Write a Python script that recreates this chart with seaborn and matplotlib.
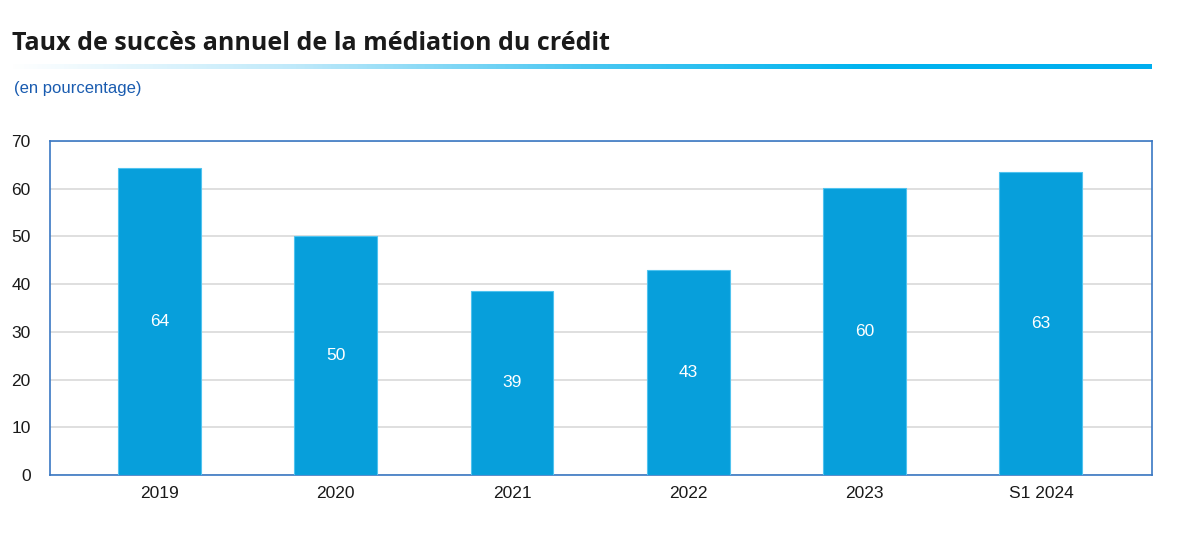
import matplotlib
matplotlib.use("Agg")
import matplotlib.pyplot as plt
import seaborn as sns
import numpy as np
import pandas as pd
from matplotlib.colors import LinearSegmentedColormap

categories = ["2019", "2020", "2021", "2022", "2023", "S1 2024"]
values = [64.4, 50.1, 38.6, 43.0, 60.2, 63.4]
labels = ["64", "50", "39", "43", "60", "63"]
yticks = [0, 10, 20, 30, 40, 50, 60, 70]

sns.set_theme(style="white")
plt.rcParams['font.family'] = ['Liberation Sans', 'DejaVu Sans']

df = pd.DataFrame({"cat": categories, "val": values})

fig = plt.figure(figsize=(12, 5.48), dpi=100)
W, H = 1200, 548
ax = fig.add_axes([50 / W, 1 - 475 / H, (1152 - 50) / W, (475 - 141) / H])

sns.barplot(data=df, x="cat", y="val", color="#079fdb", saturation=1,
            width=0.47, ax=ax, edgecolor="#4fc3ef", linewidth=0.8, zorder=3)

ax.set_xlim(-0.62, 5.63)
ax.set_ylim(0, 70)
ax.set_yticks(yticks)
ax.set_yticklabels([str(t) for t in yticks])
ax.yaxis.grid(True, color="#d9d9d9", linewidth=1.2, zorder=0)
ax.set_axisbelow(True)
ax.set_xlabel("")
ax.set_ylabel("")
for s in ax.spines.values():
    s.set_color("#3a78c3")
    s.set_linewidth(1.2)
ax.tick_params(axis="both", length=0, labelsize=12.5, colors="#1a1a1a")
ax.tick_params(axis="y", pad=14)
ax.tick_params(axis="x", pad=8)

for i, (v, lab) in enumerate(zip(values, labels)):
    ax.text(i, v / 2, lab, ha="center", va="center", color="white", fontsize=12.5)

# Title
fig.text(12 / W, 1 - 44 / H, "Taux de succès annuel de la médiation du crédit",
         fontsize=18, fontweight="bold", family=["Open Sans", "DejaVu Sans"],
         color="#1a1a1a", ha="left", va="center")

# Gradient line
gax = fig.add_axes([10 / W, 1 - 69 / H, (1152 - 10) / W, 5 / H])
grad = np.linspace(0, 1, 512).reshape(1, -1)
cmap = LinearSegmentedColormap.from_list("g", ["#ffffff", "#bfe9fa", "#4cc8f2", "#00b4ef", "#00aeef"])
gax.imshow(grad, aspect="auto", cmap=cmap, extent=[0, 1, 0, 1])
gax.set_axis_off()

# Subtitle
fig.text(14 / W, 1 - 88 / H, "(en pourcentage)", fontsize=12, color="#1a5cb0",
         ha="left", va="center")

fig.savefig("out.png", dpi=100, facecolor="white")
